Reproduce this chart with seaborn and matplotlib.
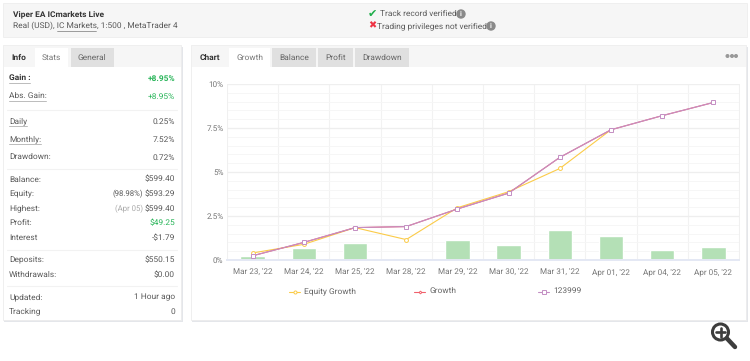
import numpy as np
import pandas as pd
import matplotlib
matplotlib.use("Agg")
import matplotlib.pyplot as plt
from matplotlib.patches import Rectangle, Circle
from matplotlib.ticker import MultipleLocator, FuncFormatter
import seaborn as sns

dates = ["Mar 23, '22", "Mar 24, '22", "Mar 25, '22", "Mar 28, '22", "Mar 29, '22",
         "Mar 30, '22", "Mar 31, '22", "Apr 01, '22", "Apr 04, '22", "Apr 05, '22"]
equity_growth = [0.40, 0.89, 1.84, 1.16, 2.97, 3.88, 5.20, 7.40, np.nan, np.nan]
growth = [0.24, 1.00, 1.84, 1.90, 2.90, 3.80, 5.83, 7.40, 8.20, 8.95]
series_123999 = [0.24, 1.00, 1.84, 1.90, 2.90, 3.80, 5.83, 7.40, 8.20, 8.95]
daily_bars = [0.23, 0.66, 0.95, 0.10, 1.14, 0.83, 1.72, 1.36, 0.55, 0.74]

stats_top = [("Gain :", "+8.95%"), ("Abs. Gain:", "+8.95%")]
stats_rate = [("Daily", "0.25%"), ("Monthly:", "7.52%"), ("Drawdown:", "0.72%")]
stats_money = [("Balance:", "$599.40"), ("Equity:", "$593.29"), ("Highest:", "$599.40"),
               ("Profit:", "$49.25"), ("Interest", "-$1.79")]
stats_flow = [("Deposits:", "$550.15"), ("Withdrawals:", "$0.00")]
stats_track = [("Updated:", "1 Hour ago"), ("Tracking", "0")]

sns.set_theme(style="white")
plt.rcParams["font.family"] = ["Roboto", "DejaVu Sans"]
plt.rcParams["text.hinting"] = "none"
plt.rcParams["text.hinting_factor"] = 8

W, H = 750, 361
fig = plt.figure(figsize=(W / 100, H / 100), dpi=100, facecolor="white")
bg = fig.add_axes([0, 0, 1, 1], zorder=0)
bg.set_xlim(0, W); bg.set_ylim(H, 0); bg.axis("off")

TXT = "#5a5a5a"
GREEN = "#2ab55a"
FS = 6.0


def rect(x0, y0, x1, y1, fc, ec="none", lw=0, z=1):
    bg.add_patch(Rectangle((x0, y0), x1 - x0, y1 - y0, facecolor=fc, edgecolor=ec, linewidth=lw, zorder=z))


def txt(x, y, s, ha="left", color=TXT, size=FS, weight="normal", **kw):
    return bg.text(x, y, s, ha=ha, va="center", color=color, fontsize=size, fontweight=weight, zorder=5, **kw)


def panel(x0, y0, x1, y1):
    rect(x0 + 1, y0 + 2, x1 + 2, y1 + 2, "#e4e6ea", z=1)
    rect(x0, y0, x1, y1, "white", ec="#ececec", lw=0.6, z=2)


# top banner
rect(3, 3, 747, 37, "#f6f6f6", ec="#eeeeee", lw=0.6)
txt(13, 14, "Viper EA ICmarkets Live", color="#333333", weight="bold")
txt(13, 26, "Real (USD), IC Markets, 1:500 , MetaTrader 4")
bg.plot([56.5, 96], [30.5, 30.5], color="#777777", lw=0.5, zorder=5)
txt(367.5, 14, "\u2714", color="#1fae4b", size=8, family=["DejaVu Sans"])
txt(368, 26, "\u2716", color="#ee3344", size=7, family=["DejaVu Sans"])
txt(379.5, 14, "Track record verified")
txt(377, 26, "Trading privileges not verified")
for cx, cy in [(461, 14), (491, 26)]:
    bg.add_patch(Circle((cx, cy), 4, color="#8a8a8a", zorder=5))
    txt(cx, cy, "i", ha="center", color="white", size=5, weight="bold")

# panels
panel(3, 45, 181, 320)
panel(191, 45, 746, 320)
rect(3.5, 45.5, 180.5, 67, "#f6f6f6", z=3)
rect(191.5, 45.5, 745.5, 67, "#f6f6f6", z=3)
for x0, x1, fc in [(35, 68, "white"), (71, 114, "#e0e0e0"), (229, 270, "white"),
                   (272, 316, "#e0e0e0"), (318, 353, "#e0e0e0"), (355, 409, "#e0e0e0")]:
    rect(x0, 48, x1, 67, fc, z=3)
txt(18.5, 57.5, "Info", ha="center", color="#333333", weight="bold")
txt(51.5, 57.5, "Stats", ha="center", color="#777777")
txt(92, 57.5, "General", ha="center", color="#666666")
txt(210, 57.5, "Chart", ha="center", color="#333333", weight="bold")
txt(249.5, 57.5, "Growth", ha="center", color="#777777")
txt(294, 57.5, "Balance", ha="center", color="#666666")
txt(335.5, 57.5, "Profit", ha="center", color="#666666")
txt(382, 57.5, "Drawdown", ha="center", color="#666666")
for dx in (727.5, 732, 736):
    bg.add_patch(Circle((dx, 56), 1.3, color="#999999", zorder=5))

# statistics column
LX, RX = 9, 175
for (lab, val), y, w in zip(stats_top, [78, 96], [21, 37]):
    bold = lab.startswith("Gain")
    txt(LX, y - 0.5, lab, color="#333333" if bold else TXT, weight="bold" if bold else "normal")
    txt(RX, y + 1, val, ha="right", color=GREEN, weight="bold" if bold else "normal")
    bg.plot([LX, LX + w], [y + 5, y + 5], color="#bbbbbb", lw=0.7, zorder=5)
for (lab, val), y in zip(stats_rate, [121, 139, 157]):
    txt(LX, y, lab); txt(RX, y + 1, val, ha="right")
for lab, w, y in [("Daily", 18, 121), ("Monthly:", 32, 139)]:
    bg.plot([LX, LX + w], [y + 5, y + 5], color="#bbbbbb", lw=0.7, zorder=5)
for (lab, val), y in zip(stats_money, [179.5, 194, 208.5, 223, 238]):
    txt(LX, y, lab)
    txt(RX, y, val, ha="right", color=GREEN if lab == "Profit:" else TXT)
txt(143, 194, "(98.98%)", ha="right", size=5.6)
txt(143, 208.5, "(Apr 05)", ha="right", size=5.6, color="#aaaaaa")
for (lab, val), y in zip(stats_flow, [260, 274.5]):
    txt(LX, y, lab); txt(RX, y, val, ha="right")
for (lab, val), y in zip(stats_track, [297, 311.5]):
    txt(LX, y, lab); txt(RX, y, val, ha="right")
for y in (110, 168.5, 249.5, 286):
    bg.plot([7, 177], [y, y], color="#f2f2f2", lw=0.8, zorder=5)

# chart
AX0, AX1, AY0, AY1 = 227, 739, 84, 260
ax = fig.add_axes([AX0 / W, 1 - AY1 / H, (AX1 - AX0) / W, (AY1 - AY0) / H], zorder=3)
ax.patch.set_alpha(0)
df = pd.DataFrame({"date": dates, "equity": equity_growth, "growth": growth,
                   "s123999": series_123999, "bars": daily_bars})
sns.barplot(data=df, x="date", y="bars", order=dates, color="#b4e0b6", saturation=1,
            width=0.48, ax=ax, zorder=2, legend=False)

lstyle = dict(linewidth=0.8, errorbar=None, ax=ax, order=dates)
sns.pointplot(data=df, x="date", y="equity", color="#fbcb48", markers="o", markersize=2.8,
              markerfacecolor="white", markeredgewidth=0.7, zorder=3, **lstyle)
sns.pointplot(data=df, x="date", y="growth", color="#f0616d", markers="D", markersize=2,
              markerfacecolor="white", markeredgewidth=0.7, zorder=4, **lstyle)
sns.pointplot(data=df, x="date", y="s123999", color="#c48fc4", markers="s", markersize=2.8,
              markerfacecolor="white", markeredgewidth=0.7, zorder=5, **lstyle)

ax.set_xlim(-0.5, 9.5)
ax.set_ylim(0, 10)
ax.set_xlabel(""); ax.set_ylabel("")
ax.yaxis.set_major_locator(MultipleLocator(2.5))
ax.yaxis.set_minor_locator(MultipleLocator(0.5))
ax.yaxis.set_major_formatter(FuncFormatter(lambda v, _: f"{v:g}%"))
ax.set_axisbelow(True)
ax.grid(True, which="major", axis="y", color="#eeeeee", lw=0.9, zorder=0)
ax.grid(True, which="minor", axis="y", color="#f6f6f6", lw=0.7, zorder=0)
for xb in np.arange(-0.5, 9.6, 1):
    ax.axvline(xb, color="#f2f2f2", lw=0.8, zorder=0)
for side in ("top", "right", "left"):
    ax.spines[side].set_color("#f0f0f0"); ax.spines[side].set_linewidth(0.7)
ax.spines["bottom"].set_color("#e4e8f4"); ax.spines["bottom"].set_linewidth(1.4)
ax.tick_params(axis="both", which="both", length=0, labelsize=5.9, labelcolor="#777777")
ax.tick_params(axis="x", pad=6)
ax.tick_params(axis="y", pad=2.5)

# legend
leg_items = [(289, "Equity Growth", "#fbcb48", "o", 2.2),
             (414, "Growth", "#f0616d", "D", 1.4),
             (538, "123999", "#c48fc4", "s", 2.6)]
for x0, lab, c, m, ms in leg_items:
    bg.plot([x0, x0 + 11], [291.5, 291.5], color=c, lw=0.8, zorder=5)
    bg.plot([x0 + 5.5], [291.5], marker=m, ms=ms, mfc="white", mec=c, mew=0.7, zorder=6)
    txt(x0 + 15, 291, lab, color="#666666", size=6.0)

# magnifier icon
bg.add_patch(Circle((720.5, 332), 8, facecolor="white", edgecolor="#3d3d3d", lw=2.2, zorder=6))
bg.plot([716, 725], [332, 332], color="#3d3d3d", lw=1.9, zorder=7)
bg.plot([720.5, 720.5], [327.5, 336.5], color="#3d3d3d", lw=1.9, zorder=7)
bg.plot([727, 735], [338.5, 347], color="#3d3d3d", lw=3.2, solid_capstyle="round", zorder=7)

fig.savefig("out.png", dpi=100, facecolor="white")
